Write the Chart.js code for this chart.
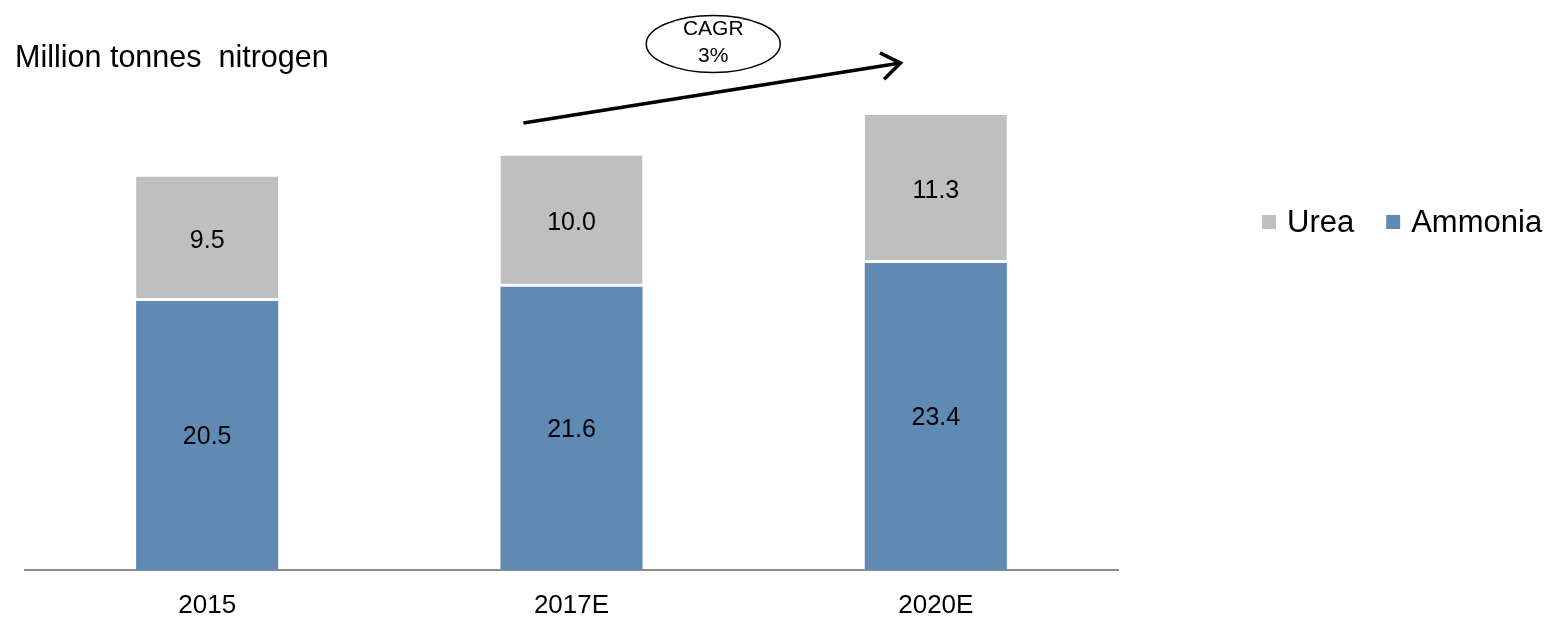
<!DOCTYPE html>
<html>
<head>
<meta charset="utf-8">
<script src="https://cdn.jsdelivr.net/npm/chart.js@4.4.1/dist/chart.umd.min.js"></script>
<style>
html,body{margin:0;padding:0;background:#fff;}
#wrap{width:1558px;height:619px;position:relative;}
</style>
</head>
<body>
<div id="wrap"><canvas id="c"></canvas></div>
<script>
const categories = ['2015', '2017E', '2020E'];
const ammonia = [20.5, 21.6, 23.4];
const urea = [9.5, 10.0, 11.3];
const seriesNames = ['Urea', 'Ammonia'];
const yAxisTitle = 'Million tonnes  nitrogen';
const cagrText = ['CAGR', '3%'];

const FONT = '"Liberation Sans", Arial, sans-serif';
const BLUE = '#5F8AB4';
const GREY = '#BFBFBF';

const overlay = {
  id: 'overlay',
  afterDatasetsDraw(chart) {
    const ctx = chart.ctx;
    ctx.save();
    ctx.fillStyle = '#000';
    ctx.font = '25px ' + FONT;
    ctx.textAlign = 'center';
    ctx.textBaseline = 'middle';
    chart.data.datasets.forEach((ds, di) => {
      const meta = chart.getDatasetMeta(di);
      meta.data.forEach((bar, i) => {
        const p = bar.getProps(['x', 'y', 'base'], true);
        ctx.fillText(ds.data[i].toFixed(1), p.x, (p.y + p.base) / 2 + 2);
      });
    });
    ctx.restore();
  },
  afterDraw(chart) {
    const ctx = chart.ctx;
    const xs = chart.scales.x, ys = chart.scales.y;
    ctx.save();
    // title
    ctx.fillStyle = '#000';
    ctx.font = '30.5px ' + FONT;
    ctx.textAlign = 'left';
    ctx.textBaseline = 'middle';
    ctx.fillText(yAxisTitle, 15, 59);

    // legend
    const legendItems = [
      {label: seriesNames[0], color: GREY},
      {label: seriesNames[1], color: BLUE}
    ];
    ctx.font = '31px ' + FONT;
    let lx = 1262;
    const ly = 222;
    legendItems.forEach(it => {
      ctx.fillStyle = it.color;
      ctx.fillRect(lx, ly - 7, 14, 14);
      ctx.fillStyle = '#000';
      ctx.fillText(it.label, lx + 25, ly + 1);
      lx += 25 + ctx.measureText(it.label).width + 32;
    });

    // CAGR arrow
    const x0 = xs.getPixelForValue(0.868), y0 = ys.getPixelForValue(34.07);
    const x1 = xs.getPixelForValue(1.903), y1 = ys.getPixelForValue(38.64);
    ctx.strokeStyle = '#000';
    ctx.lineWidth = 3.5;
    ctx.lineCap = 'butt';
    ctx.beginPath();
    ctx.moveTo(x0, y0);
    ctx.lineTo(x1, y1);
    ctx.stroke();
    const ang = Math.atan2(y1 - y0, x1 - x0);
    const L = 23, spread = 0.62;
    ctx.lineJoin = 'miter';
    ctx.beginPath();
    ctx.moveTo(x1 - L * Math.cos(ang - spread), y1 - L * Math.sin(ang - spread));
    ctx.lineTo(x1, y1);
    ctx.lineTo(x1 - L * Math.cos(ang + spread), y1 - L * Math.sin(ang + spread));
    ctx.stroke();

    // ellipse
    const ex = xs.getPixelForValue(1.389), ey = ys.getPixelForValue(40.1);
    ctx.lineWidth = 1.5;
    ctx.beginPath();
    ctx.ellipse(ex, ey, 67, 28.5, 0, 0, Math.PI * 2);
    ctx.fillStyle = '#fff';
    ctx.fill();
    ctx.stroke();
    ctx.fillStyle = '#000';
    ctx.font = '21px ' + FONT;
    ctx.textAlign = 'center';
    ctx.fillText(cagrText[0], ex, ey - 15);
    ctx.fillText(cagrText[1], ex, ey + 12);
    ctx.restore();
  }
};

new Chart(document.getElementById('c'), {
  type: 'bar',
  data: {
    labels: categories,
    datasets: [
      {
        label: seriesNames[1],
        data: ammonia,
        backgroundColor: BLUE,
        borderWidth: 0,
        categoryPercentage: 1,
        barPercentage: 0.39
      },
      {
        label: seriesNames[0],
        data: urea,
        backgroundColor: GREY,
        borderColor: '#ffffff',
        borderWidth: {top: 0, left: 0, right: 0, bottom: 3},
        borderSkipped: false,
        categoryPercentage: 1,
        barPercentage: 0.39
      }
    ]
  },
  options: {
    responsive: true,
    maintainAspectRatio: false,
    animation: false,
    events: [],
    layout: {padding: {left: 25, right: 440, top: 40, bottom: 0}},
    plugins: {
      legend: {display: false},
      title: {display: false},
      tooltip: {enabled: false}
    },
    scales: {
      x: {
        stacked: true,
        grid: {display: false, drawTicks: false},
        border: {display: true, color: '#8C8C8C', width: 2},
        ticks: {color: '#000', font: {family: FONT, size: 26}, padding: 20},
        afterFit(scale) { scale.height = 49; }
      },
      y: {
        stacked: true,
        display: false,
        min: 0,
        max: 40.4
      }
    }
  },
  plugins: [overlay]
});
</script>
</body>
</html>
